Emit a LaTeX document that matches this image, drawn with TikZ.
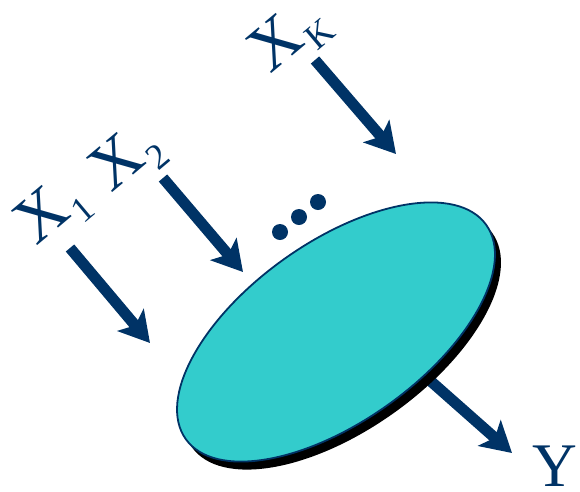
\documentclass[tikz,border=0pt]{standalone}
\usepackage{fontspec}
\setmainfont{Liberation Serif}
\usetikzlibrary{shapes.geometric,arrows.meta}
\definecolor{navy}{HTML}{003366}
\definecolor{tealfill}{HTML}{33CCCC}
\newcommand\lowsub[1]{\hspace{0.04em}\raisebox{-0.2em}{\fontsize{36}{36}\selectfont #1}}
\begin{document}
\begin{tikzpicture}[x=1pt,y=1pt,
  arr/.style={draw=navy, line width=11pt, -{Stealth[length=30pt,width=34pt,inset=7pt]}},
  lab/.style={text=navy, inner sep=0pt, font=\fontsize{66}{66}\selectfont, rotate=40},
  disc/.style={ellipse, minimum width=369pt, minimum height=179pt, rotate=35.5, inner sep=0pt},
  dotc/.style={circle, fill=navy, minimum size=16pt, inner sep=0pt}]
\useasboundingbox (0,0) rectangle (580,-491);
% output arrow (behind the disc)
\coordinate (yfrom) at (400,-354);
\coordinate (yto) at (512,-453);
\draw[arr] (yfrom) -- (yto);
% disc with shadow
\node[disc, fill=black] (shadow) at (342,-340) {};
\node[disc, fill=tealfill, draw=navy, line width=1.8pt] (disc) at (336,-332) {};
% labels
\node[lab] (x1) at (53,-213) {X\lowsub{1}};
\node[lab] (x2) at (128,-160) {X\lowsub{2}};
\node[lab] (xk) at (290,-38) {X\lowsub{K}};
\node[text=navy, inner sep=0pt, font=\fontsize{62}{62}\selectfont] (y) at (555,-466) {Y};
% input arrows
\coordinate (a1s) at (70,-248);  \coordinate (a1e) at (150,-343);
\coordinate (a2s) at (163,-178); \coordinate (a2e) at (243,-272);
\coordinate (aks) at (315,-60);  \coordinate (ake) at (396,-154);
\draw[arr] (a1s) -- (a1e);
\draw[arr] (a2s) -- (a2e);
\draw[arr] (aks) -- (ake);
% dots
\node[dotc] (d1) at (280,-232) {};
\node[dotc] (d2) at (299,-217) {};
\node[dotc] (d3) at (318,-202) {};
\end{tikzpicture}
\end{document}
